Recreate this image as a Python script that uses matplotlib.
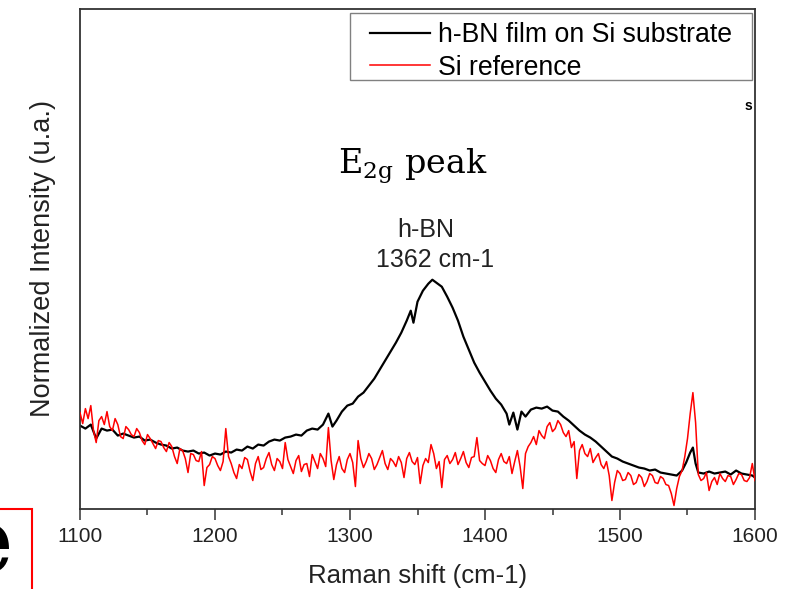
import matplotlib
matplotlib.use('Agg')
import matplotlib.pyplot as plt
from matplotlib.patches import Rectangle

plt.rcParams['font.family'] = ['Liberation Sans', 'DejaVu Sans']
plt.rcParams['mathtext.fontset'] = 'dejavuserif'

# Raman spectra (intensity in arbitrary units)
hbn_shift = [1100, 1104, 1108, 1112, 1116, 1120, 1124, 1128, 1132, 1136, 1140, 1144, 1148,
             1152, 1156, 1160, 1164, 1168, 1172, 1176, 1180, 1184, 1188, 1192, 1196, 1200,
             1204, 1208, 1212, 1216, 1220, 1224, 1228, 1232, 1236, 1240, 1244, 1248, 1252,
             1256, 1260, 1264, 1268, 1272, 1276, 1280, 1284, 1287, 1290, 1294, 1298, 1302,
             1306, 1310, 1314, 1318, 1322, 1326, 1330, 1334, 1338, 1342, 1345, 1347, 1350,
             1354, 1358, 1361, 1364, 1368, 1372, 1376, 1380, 1384, 1388, 1392, 1396, 1400,
             1404, 1408, 1412, 1416, 1418, 1421, 1424, 1427, 1430, 1434, 1438, 1442, 1446,
             1450, 1454, 1458, 1462, 1466, 1470, 1474, 1478, 1482, 1486, 1490, 1494, 1498,
             1502, 1506, 1510, 1514, 1518, 1522, 1526, 1530, 1534, 1538, 1542, 1546, 1549,
             1552, 1554, 1556, 1558, 1562, 1566, 1570, 1574, 1578, 1582, 1586, 1590, 1594,
             1598, 1600]
hbn_int = [83, 80, 84, 70, 80, 78, 79, 73, 75, 73, 71, 72, 68,
           69, 66, 64, 63, 60, 61, 58, 57, 58, 55, 56, 53, 55,
           54, 57, 56, 59, 58, 62, 60, 64, 63, 67, 69, 68, 71,
           72, 74, 73, 78, 80, 79, 84, 95, 82, 88, 97, 103, 105,
           112, 116, 123, 130, 139, 148, 157, 166, 176, 188, 198, 186, 207,
           218, 225, 229, 226, 222, 212, 201, 188, 172, 159, 146, 136, 127,
           118, 110, 104, 95, 84, 96, 79, 97, 92, 99, 101, 100, 102,
           98, 97, 92, 88, 83, 78, 74, 71, 67, 62, 57, 52, 50,
           47, 45, 43, 41, 40, 38, 39, 36, 35, 34, 33, 38, 46,
           56, 61, 45, 36, 35, 37, 35, 36, 37, 34, 38, 35, 34,
           33, 31]

# Si reference, one reading every 2 cm-1 from 1100 to 1600
si_shift = list(range(1100, 1601, 2))
si_int = [96, 85, 100, 90, 103, 78, 66, 88, 92, 84,
          97, 82, 78, 90, 84, 72, 70, 82, 79, 74,
          72, 80, 76, 68, 64, 74, 70, 65, 60, 68,
          67, 61, 57, 66, 62, 52, 45, 60, 58, 50,
          36, 55, 54, 48, 47, 57, 23, 41, 44, 52,
          50, 43, 38, 47, 80, 52, 45, 36, 30, 44,
          40, 51, 49, 37, 28, 45, 52, 39, 41, 50,
          56, 44, 38, 50, 47, 40, 66, 49, 42, 35,
          48, 53, 37, 44, 45, 32, 54, 47, 40, 55,
          50, 42, 81, 48, 29, 44, 52, 40, 36, 49,
          55, 46, 22, 68, 50, 41, 47, 55, 50, 39,
          44, 51, 58, 45, 39, 50, 47, 42, 52, 46,
          31, 50, 56, 47, 44, 51, 25, 43, 50, 46,
          64, 55, 40, 47, 21, 49, 53, 45, 49, 56,
          44, 50, 57, 46, 41, 51, 52, 71, 48, 45,
          43, 53, 48, 40, 36, 49, 55, 47, 45, 52,
          35, 47, 58, 42, 20, 55, 62, 66, 72, 64,
          78, 73, 70, 82, 86, 77, 80, 88, 84, 76,
          72, 78, 61, 67, 30, 58, 64, 55, 52, 60,
          46, 51, 55, 44, 40, 47, 33, 8, 26, 38,
          35, 28, 29, 36, 33, 24, 26, 34, 31, 22,
          27, 35, 33, 26, 25, 32, 30, 24, 23, 15,
          3, 20, 32, 38, 52, 70, 95, 116, 86, 34,
          28, 30, 36, 18, 27, 31, 24, 35, 30, 27,
          33, 32, 24, 29, 35, 34, 28, 27, 31, 45, 28]

x_ticks = [1100, 1200, 1300, 1400, 1500, 1600]
x_minor = [1150, 1250, 1350, 1450, 1550]

fig = plt.figure(figsize=(7.94, 5.89), dpi=100)
ax = fig.add_axes([80 / 794, 1 - 508.5 / 589, 675 / 794, 499.5 / 589])

ax.plot(hbn_shift, hbn_int, color='black', lw=1.6, label='h-BN film on Si substrate', zorder=2)
ax.plot(si_shift, si_int, color='red', lw=1.1, label='Si reference', zorder=3)

ax.set_xlim(1100, 1600)
ax.set_ylim(0, 500)
ax.set_xticks(x_ticks)
ax.set_xticks(x_minor, minor=True)
ax.set_yticks([])
ax.tick_params(axis='x', which='major', direction='out', length=8, width=1.1,
               labelsize=15, colors='#333333', labelcolor='#222222', pad=5)
ax.tick_params(axis='x', which='minor', direction='out', length=4, width=1.1, colors='#333333')
for s in ax.spines.values():
    s.set_color('#333333')
    s.set_linewidth(1.3)

ax.set_xlabel('Raman shift (cm-1)', fontsize=18.5, color='#222222', labelpad=13)
ax.set_ylabel('Normalized Intensity (u.a.)', fontsize=19.5, color='#222222', labelpad=17)

# legend box is drawn by hand so the padding can be wider than tall
ax.add_patch(Rectangle(((350 - 80) / 675, (508.5 - 80) / 499.5), 402 / 675, 67 / 499.5,
                       transform=ax.transAxes, fill=False, edgecolor='#808080', lw=1.0,
                       zorder=4))
leg = ax.legend(loc='upper left', bbox_to_anchor=((370 - 80) / 675, 0.974), borderaxespad=0,
                fontsize=19.2, frameon=False, handlelength=2.25, handletextpad=0.3,
                labelspacing=0.25, borderpad=0)

# annotations
ax.text(1291, 335, r'E$_{\mathrm{2g}}$ peak', fontsize=24, family='DejaVu Serif',
        ha='left', va='baseline')
ax.text(1356, 272, 'h-BN', fontsize=18, ha='center', va='baseline', color='#222222')
ax.text(1363, 242, '1362 cm-1', fontsize=18, ha='center', va='baseline', color='#222222')

# leftovers from the slide the chart was cut from
fig.text(745 / 794, 1 - 110 / 589, 's', fontsize=10, fontweight='bold')
fig.add_artist(Rectangle((-0.01, -0.01), 0.01 + 32 / 794, 0.01 + 1 - 509 / 589,
                         transform=fig.transFigure, fill=False, edgecolor='red', lw=1.5))
fig.text(13 / 794, 1 - 572 / 589, 'e', fontsize=64, family='DejaVu Serif',
         ha='right', va='baseline')

fig.savefig('out.png', dpi=100)
